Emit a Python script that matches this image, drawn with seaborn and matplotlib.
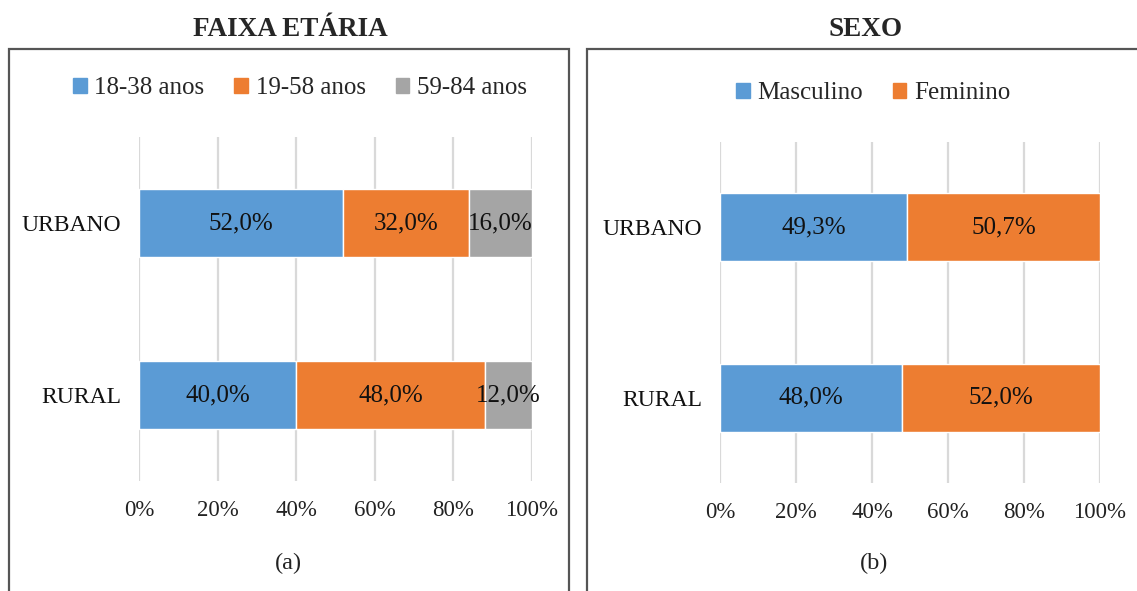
import matplotlib
matplotlib.use("Agg")
import matplotlib.pyplot as plt
import matplotlib.patches as mpatches
import numpy as np
import pandas as pd
import seaborn as sns

# dados (percentuais)
LOCAIS = ["URBANO", "RURAL"]

FAIXAS = ["18-38 anos", "19-58 anos", "59-84 anos"]
FAIXA_URBANO = [52.0, 32.0, 16.0]
FAIXA_RURAL = [40.0, 48.0, 12.0]

SEXOS = ["Masculino", "Feminino"]
SEXO_URBANO = [49.3, 50.7]
SEXO_RURAL = [48.0, 52.0]

CORES = ["#5B9BD5", "#ED7D31", "#A5A5A5"]
TICKS = [0, 20, 40, 60, 80, 100]

W, H = 1137, 591

sns.set_style("white")
plt.rcParams["font.family"] = ["Liberation Serif", "DejaVu Serif"]


def px(x0, y0, x1, y1):
    # pixel box -> figure fraction [left, bottom, width, height]
    return [x0 / W, 1 - y1 / H, (x1 - x0) / W, (y1 - y0) / H]


def stacked(ax, grupos, urbano, rural):
    left = np.zeros(len(LOCAIS))
    for i, g in enumerate(grupos):
        vals = [urbano[i], rural[i]]
        df = pd.DataFrame({"local": LOCAIS, "valor": vals})
        sns.barplot(data=df, y="local", x="valor", order=LOCAIS, orient="h",
                    color=CORES[i], width=0.4, left=left.copy(), ax=ax,
                    saturation=1, errorbar=None)
        for j, v in enumerate(vals):
            ax.text(left[j] + v / 2, j, f"{v:.1f}%".replace(".", ","),
                    ha="center", va="center", fontsize=18, color="#111111")
        left = left + np.array(vals)
    ax.set_xlim(0, 100)
    ax.set_ylim(1.5, -0.5)
    ax.set_xticks(TICKS)
    ax.set_xticklabels([f"{t}%" for t in TICKS])
    ax.tick_params(axis="x", length=0, pad=14, labelsize=16.5, labelcolor="#222222")
    ax.tick_params(axis="y", length=0, pad=13, labelsize=17, labelcolor="#111111")
    ax.set_xlabel("")
    ax.set_ylabel("")
    ax.grid(axis="x", color="#D9D9D9", linewidth=1.6)
    ax.set_axisbelow(True)
    for s in ax.spines.values():
        s.set_visible(False)


fig = plt.figure(figsize=(W / 100, H / 100), dpi=100)

# molduras dos painéis
for x0, x1 in [(9, 569), (587, 1150)]:
    fig.add_artist(mpatches.Rectangle((x0 / W, -0.05), (x1 - x0) / W, 1 - 49 / H + 0.05,
                                      transform=fig.transFigure, fill=False,
                                      edgecolor="#555555", linewidth=1.6))

ax1 = fig.add_axes(px(139, 137, 532, 481))
stacked(ax1, FAIXAS, FAIXA_URBANO, FAIXA_RURAL)

ax2 = fig.add_axes(px(720, 142, 1100, 483))
stacked(ax2, SEXOS, SEXO_URBANO, SEXO_RURAL)

# títulos
fig.text(290 / W, 1 - 30 / H, "FAIXA ETÁRIA", ha="center", va="center",
         fontsize=19.5, fontweight="bold", color="#262626")
fig.text(866 / W, 1 - 30 / H, "SEXO", ha="center", va="center",
         fontsize=19.5, fontweight="bold", color="#262626")

# legendas
h1 = [mpatches.Patch(color=CORES[i], label=g) for i, g in enumerate(FAIXAS)]
fig.legend(handles=h1, loc="center", bbox_to_anchor=(300 / W, 1 - 88 / H), ncol=3,
           frameon=False, fontsize=18, handlelength=0.55, handleheight=0.55,
           handletextpad=0.3, columnspacing=1.2)
h2 = [mpatches.Patch(color=CORES[i], label=g) for i, g in enumerate(SEXOS)]
fig.legend(handles=h2, loc="center", bbox_to_anchor=(873 / W, 1 - 93 / H), ncol=2,
           frameon=False, fontsize=18, handlelength=0.55, handleheight=0.55,
           handletextpad=0.3, columnspacing=1.2)

# rótulos (a) e (b)
fig.text(288 / W, 1 - 563 / H, "(a)", ha="center", va="center", fontsize=17.5, color="#222222")
fig.text(874 / W, 1 - 563 / H, "(b)", ha="center", va="center", fontsize=17.5, color="#222222")

fig.savefig("out.png", dpi=100)
